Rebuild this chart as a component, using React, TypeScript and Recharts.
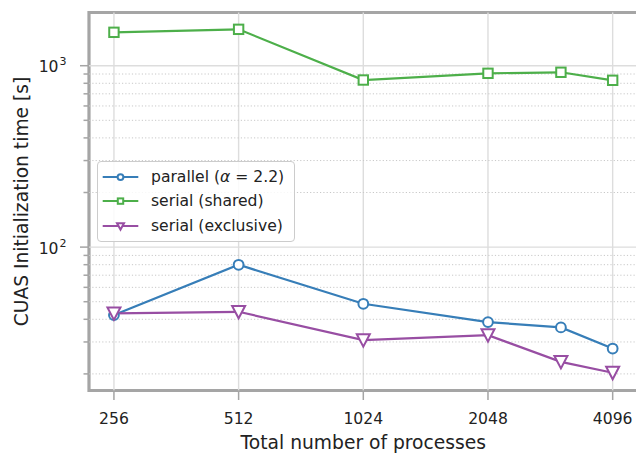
import React from "react";
import { LineChart, Line, XAxis, YAxis, ReferenceLine, ReferenceArea, Label } from "recharts";

const PROCESSES = [256, 512, 1024, 2048, 3072, 4096];
const PARALLEL = [42.2, 79.9, 48.7, 38.6, 36.1, 27.6];
const SERIAL_SHARED = [1528, 1587, 834, 908, 920, 831];
const SERIAL_EXCLUSIVE = [43.1, 44.0, 30.7, 32.7, 23.3, 20.3];

const X_TICKS = [256, 512, 1024, 2048, 4096];
const Y_MAJOR = [100, 1000];
const Y_MINOR = [20, 30, 40, 50, 60, 70, 80, 90, 200, 300, 400, 500, 600, 700, 800, 900];
const X_DOMAIN = [222.86, 4705];
const Y_DOMAIN = [16.2, 1965];

const BLUE = "#377eb8";
const GREEN = "#4daf4a";
const PURPLE = "#984ea3";
const SPINE = "#a5a5a5";
const FONT = "'DejaVu Sans', sans-serif";

const data = PROCESSES.map((p, i) => ({
  p,
  parallel: PARALLEL[i],
  shared: SERIAL_SHARED[i],
  exclusive: SERIAL_EXCLUSIVE[i],
}));

const marker = (kind: string, color: string, cx: number, cy: number, s: number, key?: any) => {
  if (kind === "circle")
    return <circle key={key} cx={cx} cy={cy} r={s / 2 - 0.6} fill="#fff" stroke={color} strokeWidth={2} />;
  if (kind === "square")
    return (
      <rect key={key} x={cx - s / 2 + 0.8} y={cy - s / 2 + 0.8} width={s - 1.6} height={s - 1.6} fill="#fff" stroke={color} strokeWidth={2} />
    );
  const h = s / 2;
  return (
    <path
      key={key}
      d={`M${cx - h},${cy - h + 0.6} L${cx + h},${cy - h + 0.6} L${cx},${cy + h} Z`}
      fill="#fff"
      stroke={color}
      strokeWidth={2}
      strokeLinejoin="miter"
    />
  );
};

const SERIES = [
  { key: "parallel", color: BLUE, kind: "circle" },
  { key: "shared", color: GREEN, kind: "square" },
  { key: "exclusive", color: PURPLE, kind: "triangle" },
];

const XTick = (props: any) => {
  const { x, y, payload } = props;
  return (
    <g>
      <line x1={x} x2={x} y1={y} y2={y + 9.5} stroke={SPINE} strokeWidth={1.5} />
      <text x={x} y={y + 33} textAnchor="middle" fontSize={15.6} fontFamily={FONT} fill="#222">
        {payload.value}
      </text>
    </g>
  );
};

const YTick = (props: any) => {
  const { x, y, payload } = props;
  const v = payload.value;
  const major = Y_MAJOR.includes(v);
  return (
    <g>
      <line x1={x - (major ? 9 : 5.5)} x2={x} y1={y} y2={y} stroke={SPINE} strokeWidth={1.5} />
      {major && (
        <text fontFamily={FONT} fill="#222">
          <tspan x={x - 30.5} y={y + 6.5} textAnchor="end" fontSize={15.6}>
            10
          </tspan>
        </text>
      )}
      {major && (
        <text x={x - 29.5} y={y - 0.5} fontSize={11} fontFamily={FONT} fill="#222">
          {Math.round(Math.log10(v))}
        </text>
      )}
    </g>
  );
};

const LegendBox = () => {
  const labels = [
    <span>
      parallel (<i>α</i> = 2.2)
    </span>,
    <span>serial (shared)</span>,
    <span>serial (exclusive)</span>,
  ];
  return (
    <div
      style={{
        position: "absolute",
        left: 97,
        top: 160.7,
        width: 198,
        height: 81.8,
        boxSizing: "border-box",
        border: "1px solid #cccccc",
        borderRadius: 4,
        background: "rgba(255,255,255,0.85)",
        fontFamily: FONT,
        fontSize: 15.6,
        color: "#222",
      }}
    >
      {SERIES.map((s, i) => (
        <div key={s.key} style={{ position: "absolute", left: 0, top: 3.5 + i * 24.2, height: 24.2, width: 196 }}>
          <svg width={48} height={24.2} style={{ position: "absolute", left: 0, top: 0 }}>
            <line x1={4.7} x2={40.3} y1={12.1} y2={12.1} stroke={s.color} strokeWidth={2} />
            {marker(s.kind, s.color, 22.5, 12.1, 7)}
          </svg>
          <div style={{ position: "absolute", left: 53, top: 0, lineHeight: "24.2px", whiteSpace: "nowrap" }}>
            {labels[i]}
          </div>
        </div>
      ))}
    </div>
  );
};

export default function App() {
  return (
    <div style={{ position: "absolute", left: 0, top: 0, width: 636, height: 455, overflow: "hidden", background: "#fff" }}>
      <LineChart width={660} height={455} data={data} margin={{ top: 12.5, right: 22.4, bottom: 34.5, left: 29 }}>
        {X_TICKS.map((v) => (
          <ReferenceLine key={"vx" + v} x={v} stroke="#dddddd" strokeWidth={1.4} />
        ))}
        {Y_MINOR.map((v) => (
          <ReferenceLine key={"my" + v} y={v} stroke="#c8c8c8" strokeWidth={1} strokeDasharray="1.2 2.1" />
        ))}
        {Y_MAJOR.map((v) => (
          <ReferenceLine key={"My" + v} y={v} stroke="#dddddd" strokeWidth={1.4} />
        ))}
        <XAxis
          dataKey="p"
          type="number"
          scale="log"
          domain={X_DOMAIN}
          ticks={X_TICKS}
          allowDataOverflow
          axisLine={false}
          tickLine={false}
          tickSize={0}
          tickMargin={0}
          height={30}
          tick={XTick}
          interval={0}
        >
          <Label
            content={(p: any) => {
              const vb = p.viewBox;
              return (
                <text x={vb.x + vb.width / 2} y={vb.y + 58.5} textAnchor="middle" fontSize={18.7} fontFamily={FONT} fill="#222">
                  Total number of processes
                </text>
              );
            }}
          />
        </XAxis>
        <YAxis
          type="number"
          scale="log"
          domain={Y_DOMAIN}
          ticks={[...Y_MINOR, ...Y_MAJOR].sort((a, b) => a - b)}
          allowDataOverflow
          axisLine={false}
          tickLine={false}
          tickSize={0}
          tickMargin={0}
          width={60}
          tick={YTick}
          interval={0}
        >
          <Label
            content={(p: any) => {
              const vb = p.viewBox;
              const cy = vb.y + vb.height / 2;
              const cx = 27.5;
              return (
                <text
                  x={cx}
                  y={cy}
                  textAnchor="middle"
                  fontSize={18.7}
                  fontFamily={FONT}
                  fill="#222"
                  transform={`rotate(-90, ${cx}, ${cy})`}
                >
                  CUAS Initialization time [s]
                </text>
              );
            }}
          />
        </YAxis>
        {SERIES.map((s) => (
          <Line
            key={s.key}
            dataKey={s.key}
            type="linear"
            stroke={s.color}
            strokeWidth={2.2}
            isAnimationActive={false}
            activeDot={false}
            dot={(d: any) => marker(s.kind, s.color, d.cx, d.cy, s.kind === "triangle" ? 13 : 11, d.key)}
          />
        ))}
        <ReferenceArea
          x1={X_DOMAIN[0]}
          x2={X_DOMAIN[1]}
          y1={Y_DOMAIN[0]}
          y2={Y_DOMAIN[1]}
          fill="none"
          stroke={SPINE}
          strokeWidth={3.2}
          ifOverflow="visible"
        />
      </LineChart>
      <LegendBox />
    </div>
  );
}
